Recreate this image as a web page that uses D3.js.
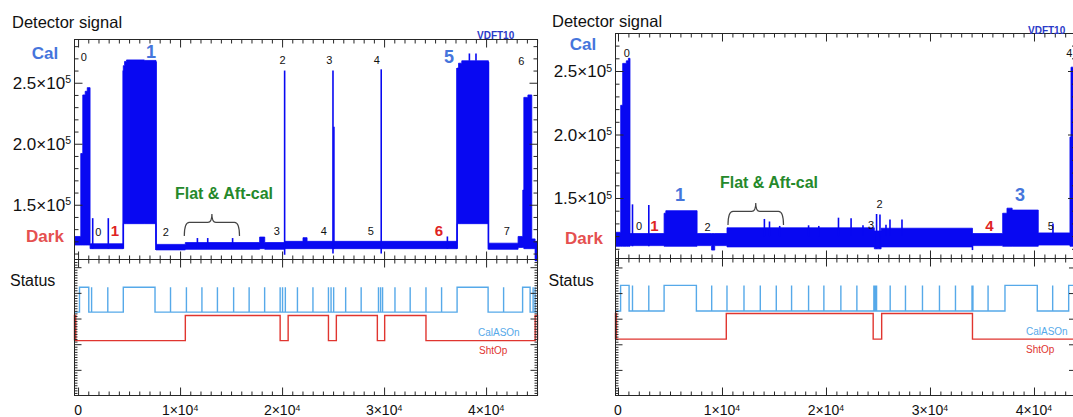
<!DOCTYPE html>
<html>
<head>
<meta charset="utf-8">
<script src="https://cdn.jsdelivr.net/npm/d3@7"></script>
<style>
  html, body { margin: 0; padding: 0; background: #fff; }
  svg { display: block; font-family: "Liberation Sans", Arial, sans-serif; }
</style>
</head>
<body>
<svg id="chart" width="1073" height="417"></svg>
<script>
// ===================== Data =====================
// Detector signal (VDFT10) envelope: time (s) breakpoints, lower and upper level (counts)
const leftSigT  = [-350, 265, 461, 700, 900, 1176, 4434, 4560, 4750, 6500, 7640, 10515, 17800, 18300, 20250, 22050, 22450, 25000, 37157, 37300, 37618, 40230, 43137, 43598, 43700, 44100, 44480, 44804, 45040];
const leftSigLo = [1.17e5, 1.17e5, 1.17e5, 1.17e5, 1.17e5, 1.14e5, 1.345e5, 1.345e5, 1.345e5, 1.345e5, 1.13e5, 1.135e5, 1.14e5, 1.135e5, 1.14e5, 1.14e5, 1.14e5, 1.14e5, 1.345e5, 1.345e5, 1.345e5, 1.135e5, 1.15e5, 1.15e5, 1.14e5, 1.14e5, 1.14e5, 1.04e5, 1.04e5];
const leftSigHi = [1.24e5, 1.92e5, 2.40e5, 2.43e5, 2.46e5, 1.18e5, 2.64e5, 2.675e5, 2.687e5, 2.683e5, 1.175e5, 1.19e5, 1.235e5, 1.19e5, 1.20e5, 1.23e5, 1.20e5, 1.20e5, 2.62e5, 2.66e5, 2.68e5, 1.185e5, 1.24e5, 1.62e5, 2.38e5, 2.40e5, 1.22e5, 1.20e5, 1.20e5];
// single-sample excursions: time, from, to
const leftSpikeT  = [1434, 2964, 4434, 7640, 11700, 12710, 15150, 20250, 24990, 25080, 29720, 36206, 37157, 38363, 39010, 40230, 44880];
const leftSpikeLo = [1.14e5, 1.14e5, 1.14e5, 1.13e5, 1.14e5, 1.14e5, 1.14e5, 1.09e5, 1.10e5, 1.14e5, 1.10e5, 1.14e5, 1.14e5, 2.68e5, 2.68e5, 1.135e5, 1.04e5];
const leftSpikeHi = [1.39e5, 1.39e5, 2.60e5, 2.675e5, 1.227e5, 1.227e5, 1.227e5, 2.60e5, 2.60e5, 2.14e5, 2.61e5, 1.24e5, 2.62e5, 2.74e5, 2.74e5, 2.67e5, 1.20e5];
// status flags: on-intervals (start, end)
const leftCalOnStart = [140, 1326, 2914, 4434, 9063, 10622, 12142, 13662, 15250, 16770, 18290, 19810, 20046, 20320, 21506, 23026, 24546, 24801, 25056, 26233, 27753, 29450, 29656, 29852, 31067, 32558, 34107, 35637, 37157, 41717, 43580, 44610, 44806];
const leftCalOnEnd   = [1050, 1326, 2914, 7543, 9063, 10622, 12142, 13662, 15250, 16770, 18290, 19810, 20046, 20320, 21506, 23026, 24546, 24801, 25056, 26233, 27753, 29450, 29656, 29852, 31067, 32558, 34107, 35637, 40197, 41717, 44316, 44610, 44806];
const leftShtOpStart = [-350, 10515, 20595, 25320, 30057, 44810];
const leftShtOpEnd   = [-230, 19810, 24546, 29340, 34107, 45040];

const rightSigT  = [-240, 260, 452, 800, 1000, 1154, 4433, 4600, 7605, 9000, 9300, 10480, 24650, 25300, 34085, 36990, 37403, 37900, 40412, 43460, 43560, 44040];
const rightSigLo = [1.12e5, 1.12e5, 1.12e5, 1.12e5, 1.12e5, 1.125e5, 1.12e5, 1.12e5, 1.125e5, 1.09e5, 1.125e5, 1.115e5, 1.10e5, 1.115e5, 1.125e5, 1.12e5, 1.12e5, 1.12e5, 1.13e5, 1.12e5, 1.12e5, 1.12e5];
const rightSigHi = [1.23e5, 2.23e5, 2.56e5, 2.58e5, 2.60e5, 1.22e5, 1.38e5, 1.40e5, 1.22e5, 1.22e5, 1.22e5, 1.265e5, 1.24e5, 1.262e5, 1.22e5, 1.38e5, 1.42e5, 1.405e5, 1.225e5, 1.98e5, 2.53e5, 2.53e5];
const rightSpikeT  = [1394, 2961, 14077, 14567, 15548, 18326, 19307, 21201, 22413, 23557, 24864, 25190, 25769, 26153, 27307, 34085, 41826];
const rightSpikeLo = [1.12e5, 1.12e5, 1.2e5, 1.2e5, 1.2e5, 1.2e5, 1.2e5, 1.2e5, 1.2e5, 1.2e5, 1.10e5, 1.10e5, 1.2e5, 1.2e5, 1.2e5, 1.09e5, 1.2e5];
const rightSpikeHi = [1.45e5, 1.445e5, 1.335e5, 1.315e5, 1.28e5, 1.285e5, 1.28e5, 1.345e5, 1.34e5, 1.285e5, 1.374e5, 1.37e5, 1.29e5, 1.33e5, 1.33e5, 1.22e5, 1.30e5];
const rightCalOnStart = [250, 1394, 2961, 4433, 9009, 10480, 12115, 13682, 15220, 16691, 18326, 19797, 21431, 22970, 24604, 24734, 24864, 26172, 27643, 29278, 30912, 32451, 34040, 34085, 34130, 35585, 37210, 41797, 43336];
const rightCalOnEnd   = [1067, 1394, 2961, 7538, 9009, 10480, 12115, 13682, 15220, 16691, 18326, 19797, 21431, 22970, 24604, 24734, 24864, 26172, 27643, 29278, 30912, 32451, 34040, 34085, 34130, 35585, 40316, 41797, 44040];
const rightShtOpStart = [-240, 10413, 25354];
const rightShtOpEnd   = [-150, 24537, 34085];

// axis tick values
const xMajorTicks = [0, 10000, 20000, 30000, 40000];
const yMajorTicks = [1.5e5, 2.0e5, 2.5e5];
const statusMajorTicks = [1, 2, 3, 4, 5];

// ===================== Styles =====================
const SIG = '#0808f2';
const CAL_BLUE = '#4575dc';
const DARK_RED = '#e5504f';
const NUM_RED = '#df2323';
const GREEN = '#25892b';
const STAT_BLUE = '#56a9e9';
const STAT_RED = '#e0352f';
const AXIS = '#262626';

const svg = d3.select('#chart');

const panels = [
  {
    x0: 74.5, x1: 537.5, top: 39.5, mid: 259.5, bottom: 395.5,
    xDomain: [-350, 45040], yDomain: [1.0512e5, 2.8545e5], sDomain: [0, 5.30],
    sigT: leftSigT, sigLo: leftSigLo, sigHi: leftSigHi,
    spT: leftSpikeT, spLo: leftSpikeLo, spHi: leftSpikeHi,
    calS: leftCalOnStart, calE: leftCalOnEnd, shtS: leftShtOpStart, shtE: leftShtOpEnd,
    calLevels: [3.25, 4.22], shtLevels: [2.14, 3.12],
    yLabelX: 71,
    brace: [184.3, 239.5, 214, 236],
    texts: [
      ['Detector signal', 12, 22, 16.5, 'normal', '#111', 'start'],
      ['Cal', 45, 53, 17, 'bold', CAL_BLUE, 'middle'],
      ['Dark', 45, 236, 17, 'bold', DARK_RED, 'middle'],
      ['Status', 10, 280, 16, 'normal', '#111', 'start'],
      ['0', 83.7, 57, 11, 'normal', '#111', 'middle'],
      ['1', 150.9, 51.7, 18, 'bold', CAL_BLUE, 'middle'],
      ['2', 282.5, 60, 11, 'normal', '#111', 'middle'],
      ['3', 329.4, 60, 11, 'normal', '#111', 'middle'],
      ['4', 376.7, 60, 11, 'normal', '#111', 'middle'],
      ['5', 449, 57.3, 18, 'bold', CAL_BLUE, 'middle'],
      ['6', 521.4, 60.7, 11, 'normal', '#111', 'middle'],
      ['0', 98.3, 231.7, 11, 'normal', '#111', 'middle'],
      ['1', 115, 230, 15, 'bold', NUM_RED, 'middle'],
      ['2', 165.7, 231.7, 11, 'normal', '#111', 'middle'],
      ['3', 276.7, 231, 11, 'normal', '#111', 'middle'],
      ['4', 323.9, 231, 11, 'normal', '#111', 'middle'],
      ['5', 370.8, 231, 11, 'normal', '#111', 'middle'],
      ['6', 439, 230, 15, 'bold', NUM_RED, 'middle'],
      ['7', 506.7, 230.7, 11, 'normal', '#111', 'middle'],
      ['Flat & Aft-cal', 224, 193.6, 16, 'bold', GREEN, 'middle'],
      ['VDFT10', 477, 35, 10, 'bold', '#2a3ac8', 'start'],
      ['CalASOn', 478, 332, 10, 'normal', STAT_BLUE, 'start'],
      ['ShtOp', 479, 350, 10, 'normal', STAT_RED, 'start']
    ]
  },
  {
    x0: 615.5, x1: 1076, top: 33.5, mid: 258.5, bottom: 395.5,
    xDomain: [-240, 44040], yDomain: [1.0236e5, 2.7953e5], sDomain: [0, 5.35],
    sigT: rightSigT, sigLo: rightSigLo, sigHi: rightSigHi,
    spT: rightSpikeT, spLo: rightSpikeLo, spHi: rightSpikeHi,
    calS: rightCalOnStart, calE: rightCalOnEnd, shtS: rightShtOpStart, shtE: rightShtOpEnd,
    calLevels: [3.3, 4.3], shtLevels: [2.2, 3.2],
    yLabelX: 612,
    brace: [728, 783.5, 203, 225],
    texts: [
      ['Detector signal', 552, 21, 16.5, 'normal', '#111', 'start'],
      ['Cal', 583, 44, 17, 'bold', CAL_BLUE, 'middle'],
      ['Dark', 584, 238.5, 17, 'bold', DARK_RED, 'middle'],
      ['Status', 548.5, 280, 16, 'normal', '#111', 'start'],
      ['0', 626.7, 52.7, 11, 'normal', '#111', 'middle'],
      ['4', 1069.3, 53.3, 11, 'normal', '#111', 'middle'],
      ['1', 680, 195, 18, 'bold', CAL_BLUE, 'middle'],
      ['3', 1020, 195, 18, 'bold', CAL_BLUE, 'middle'],
      ['0', 639, 226, 11, 'normal', '#111', 'middle'],
      ['1', 654.5, 225, 15, 'bold', NUM_RED, 'middle'],
      ['2', 707.5, 227, 11, 'normal', '#111', 'middle'],
      ['2', 879.6, 204, 11, 'normal', '#111', 'middle'],
      ['3', 871, 225, 11, 'normal', '#111', 'middle'],
      ['4', 989.5, 225, 15, 'bold', NUM_RED, 'middle'],
      ['5', 1050.7, 226, 11, 'normal', '#111', 'middle'],
      ['Flat & Aft-cal', 769, 182.5, 16, 'bold', GREEN, 'middle'],
      ['VDFT10', 1028, 30, 10, 'bold', '#2a3ac8', 'start'],
      ['CalASOn', 1026, 331, 10, 'normal', STAT_BLUE, 'start'],
      ['ShtOp', 1026, 349, 10, 'normal', STAT_RED, 'start']
    ]
  }
];

// power-of-ten label: mantissa×10 with superscript exponent
function powLabel(sel, v, digits) {
  if (v === 0) { sel.text('0'); return; }
  const e = Math.floor(Math.log10(v) + 1e-9);
  const m = v / Math.pow(10, e);
  sel.append('tspan').text((digits ? m.toFixed(digits) : String(Math.round(m))) + '×10');
  sel.append('tspan').attr('dy', '-0.5em').attr('font-size', '0.62em').text(String(e));
}

function statusPoints(starts, ends, lv, domain) {
  const pts = [[domain[0], lv[0]]];
  starts.forEach((a, i) => {
    pts.push([a, lv[0]], [a, lv[1]], [ends[i], lv[1]], [ends[i], lv[0]]);
  });
  pts.push([domain[1], lv[0]]);
  return pts;
}

function tickAxis(g, gen, minorVals, majorVals, minorLen, majorLen) {
  const a = g.append('g').attr('color', AXIS);
  a.call(gen.tickValues(minorVals).tickSize(-minorLen).tickFormat(''));
  a.select('.domain').remove();
  const b = g.append('g').attr('color', AXIS);
  b.call(gen.tickValues(majorVals).tickSize(-majorLen).tickFormat(''));
  b.select('.domain').remove();
  g.selectAll('line').attr('stroke-width', 1);
}

panels.forEach(p => {
  const g = svg.append('g');
  const x = d3.scaleLinear().domain(p.xDomain).range([p.x0, p.x1]);
  const y = d3.scaleLinear().domain(p.yDomain).range([p.mid, p.top]);
  const s = d3.scaleLinear().domain(p.sDomain).range([p.bottom, p.mid]);

  // ---- detector signal envelope ----
  const env = p.sigT.map((t, i) => ({ t, lo: p.sigLo[i], hi: p.sigHi[i] }));
  const area = d3.area()
    .x(d => x(d.t)).y0(d => y(d.lo)).y1(d => y(d.hi))
    .curve(d3.curveStepAfter);
  g.append('path').attr('d', area(env))
    .attr('fill', SIG).attr('stroke', SIG).attr('stroke-width', 0.8)
    .attr('stroke-linejoin', 'miter');

  g.append('g').selectAll('line')
    .data(p.spT.map((t, i) => ({ t, lo: p.spLo[i], hi: p.spHi[i] })))
    .join('line')
    .attr('x1', d => x(d.t)).attr('x2', d => x(d.t))
    .attr('y1', d => y(d.lo)).attr('y2', d => y(d.hi))
    .attr('stroke', SIG).attr('stroke-width', 1.6);

  // ---- status flags ----
  const line = d3.line().x(d => x(d[0])).y(d => s(d[1]));
  g.append('path').attr('d', line(statusPoints(p.shtS, p.shtE, p.shtLevels, p.xDomain)))
    .attr('fill', 'none').attr('stroke', STAT_RED).attr('stroke-width', 1.4);
  g.append('path').attr('d', line(statusPoints(p.calS, p.calE, p.calLevels, p.xDomain)))
    .attr('fill', 'none').attr('stroke', STAT_BLUE).attr('stroke-width', 1.4);

  // ---- frames ----
  [[p.top, p.mid], [p.mid, p.bottom]].forEach(([t, b]) => {
    g.append('rect').attr('x', p.x0).attr('y', t)
      .attr('width', p.x1 - p.x0).attr('height', b - t)
      .attr('fill', 'none').attr('stroke', AXIS).attr('stroke-width', 1);
  });

  // ---- ticks ----
  const xMinor = d3.range(0, p.xDomain[1], 1000).filter(v => xMajorTicks.indexOf(v) < 0);
  const yMinor = d3.range(1.1e5, p.yDomain[1], 1e4).filter(v => !yMajorTicks.some(m => Math.abs(m - v) < 1));
  const sMinor = d3.range(0.1, p.sDomain[1], 0.1).filter(v => Math.abs(v - Math.round(v)) > 0.01);

  tickAxis(g.append('g').attr('transform', `translate(0,${p.top})`), d3.axisTop(x), xMinor, xMajorTicks, 4, 8);
  tickAxis(g.append('g').attr('transform', `translate(0,${p.mid})`), d3.axisBottom(x), xMinor, xMajorTicks, 4, 8);
  tickAxis(g.append('g').attr('transform', `translate(${p.x0},0)`), d3.axisLeft(y), yMinor, yMajorTicks, 4, 8);
  tickAxis(g.append('g').attr('transform', `translate(${p.x1},0)`), d3.axisRight(y), yMinor, yMajorTicks, 4, 8);

  tickAxis(g.append('g').attr('transform', `translate(0,${p.mid})`), d3.axisTop(x), xMinor, xMajorTicks, 4, 8);
  tickAxis(g.append('g').attr('transform', `translate(0,${p.bottom})`), d3.axisBottom(x), xMinor, xMajorTicks, 4, 8);
  tickAxis(g.append('g').attr('transform', `translate(${p.x0},0)`), d3.axisLeft(s), sMinor, statusMajorTicks, 3, 7);
  tickAxis(g.append('g').attr('transform', `translate(${p.x1},0)`), d3.axisRight(s), sMinor, statusMajorTicks, 3, 7);

  // ---- tick labels ----
  yMajorTicks.forEach(v => {
    const t = g.append('text').attr('x', p.yLabelX).attr('y', y(v) + 6)
      .attr('text-anchor', 'end').attr('font-size', 17).attr('fill', '#111');
    powLabel(t, v, 1);
  });
  xMajorTicks.forEach(v => {
    const t = g.append('text').attr('x', x(v)).attr('y', 415)
      .attr('text-anchor', 'middle').attr('font-size', 14).attr('fill', '#111');
    powLabel(t, v, 0);
  });

  // ---- curly brace under the flat-field annotation ----
  const [bx1, bx2, byTip, byEnd] = p.brace;
  const bm = (bx1 + bx2) / 2, bb = byTip + (byEnd - byTip) * 0.38;
  const bp = d3.path();
  bp.moveTo(bx1, byEnd);
  bp.quadraticCurveTo(bx1, bb, bx1 + 5, bb);
  bp.lineTo(bm - 4, bb);
  bp.quadraticCurveTo(bm, bb, bm, byTip);
  bp.quadraticCurveTo(bm, bb, bm + 4, bb);
  bp.lineTo(bx2 - 5, bb);
  bp.quadraticCurveTo(bx2, bb, bx2, byEnd);
  g.append('path').attr('d', bp.toString()).attr('fill', 'none')
    .attr('stroke', '#444').attr('stroke-width', 1.2);

  // ---- annotations ----
  p.texts.forEach(([txt, tx, ty, size, weight, color, anchor]) => {
    g.append('text').attr('x', tx).attr('y', ty)
      .attr('dominant-baseline', 'central')
      .attr('text-anchor', anchor).attr('font-size', size)
      .attr('font-weight', weight).attr('fill', color).text(txt);
  });
});
</script>
</body>
</html>
